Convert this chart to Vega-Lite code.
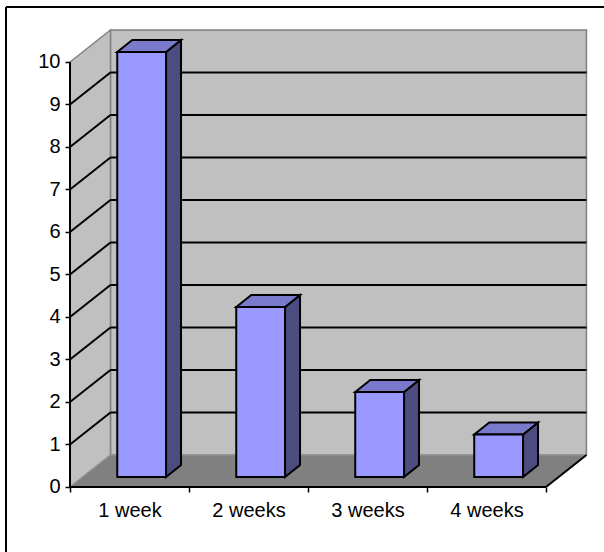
{
  "$schema": "https://vega.github.io/schema/vega-lite/v6.json",
  "width": 598,
  "height": 545,
  "autosize": {"type": "none"},
  "padding": {"left": 6, "top": 7, "right": 0, "bottom": 0},
  "background": "white",
  "config": {"view": {"stroke": null}},
  "datasets": {
    "bars": [
      {"period": "1 week", "count": 10},
      {"period": "2 weeks", "count": 4},
      {"period": "3 weeks", "count": 2},
      {"period": "4 weeks", "count": 1}
    ],
    "grid": [{"v": 1}, {"v": 2}, {"v": 3}, {"v": 4}, {"v": 5}, {"v": 6}, {"v": 7}, {"v": 8}, {"v": 9}],
    "one": [{"n": 0}],
    "two": [{"k": 0}, {"k": 1}]
  },
  "encoding": {
    "x": {
      "field": "px", "type": "quantitative",
      "scale": {"domain": [-0.5378, 4.4874], "nice": false, "zero": false},
      "axis": {
        "values": [0, 1, 2, 3, 4],
        "labelExpr": "['1 week','2 weeks','3 weeks','4 weeks',''][datum.value]",
        "labelOffset": 59.5, "offset": -65, "domain": false, "grid": false,
        "tickSize": 5, "tickColor": "black", "tickWidth": 1.5,
        "labelFontSize": 20, "labelFont": "Liberation Sans", "labelColor": "black",
        "labelPadding": 8, "title": null, "labelAlign": "center",
        "labelFlush": false, "labelOverlap": false, "labelBound": false, "zindex": 1
      }
    },
    "y": {
      "field": "py", "type": "quantitative",
      "scale": {"domain": [-1.5294, 11.294], "nice": false, "zero": false},
      "axis": {
        "values": [0, 1, 2, 3, 4, 5, 6, 7, 8, 9, 10],
        "format": "d", "offset": -64, "domain": false, "grid": false,
        "tickSize": 5, "tickColor": "black", "tickWidth": 1.5,
        "labelFontSize": 20, "labelFont": "Liberation Sans", "labelColor": "black",
        "labelPadding": 5, "title": null, "labelFlush": false, "labelOverlap": false, "zindex": 1
      }
    }
  },
  "layer": [
    {
      "data": {"values": [{"edge": "top"}, {"edge": "left"}]},
      "transform": [
        {"calculate": "-0.5378", "as": "px"},
        {"calculate": "datum.edge == 'top' ? 4.4874 : -0.5378", "as": "px2"},
        {"calculate": "datum.edge == 'top' ? 11.294 : -1.5294", "as": "py"},
        {"calculate": "11.294", "as": "py2"}
      ],
      "mark": {"type": "rule", "color": "black", "strokeWidth": 2},
      "encoding": {
        "x2": {"field": "px2"},
        "y2": {"field": "py2"}
      }
    },
    {
      "data": {"name": "one"},
      "transform": [
        {"calculate": "0.34", "as": "px"},
        {"calculate": "4.34", "as": "px2"},
        {"calculate": "0.753", "as": "py"},
        {"calculate": "10.753", "as": "py2"}
      ],
      "mark": {"type": "rect", "fill": "#C0C0C0", "stroke": "#808080", "strokeWidth": 1.5},
      "encoding": {
        "x2": {"field": "px2"},
        "y2": {"field": "py2"}
      }
    },
    {
      "data": {"name": "two"},
      "transform": [
        {"calculate": "datum.k * 0.34", "as": "px"},
        {"calculate": "datum.k * 0.753", "as": "py"},
        {"calculate": "10 + datum.k * 0.753", "as": "py2"}
      ],
      "mark": {"type": "area", "fill": "#C0C0C0", "stroke": "#808080", "strokeWidth": 1.5},
      "encoding": {
        "y2": {"field": "py2"}
      }
    },
    {
      "data": {"name": "two"},
      "transform": [
        {"calculate": "datum.k * 0.753", "as": "py"},
        {"calculate": "datum.k * 0.34", "as": "px"},
        {"calculate": "4 + datum.k * 0.34", "as": "px2"}
      ],
      "mark": {"type": "area", "orient": "horizontal", "fill": "#808080", "stroke": "#999999", "strokeWidth": 1},
      "encoding": {
        "x2": {"field": "px2"}
      }
    },
    {
      "data": {"name": "grid"},
      "transform": [
        {"calculate": "datum.v + 0.753", "as": "py"},
        {"calculate": "0.34", "as": "px"},
        {"calculate": "4.34", "as": "px2"}
      ],
      "mark": {"type": "rule", "color": "black", "strokeWidth": 2},
      "encoding": {
        "x2": {"field": "px2"}
      }
    },
    {
      "data": {"name": "grid"},
      "transform": [
        {"calculate": "datum.v", "as": "py"},
        {"calculate": "datum.v + 0.753", "as": "py2"},
        {"calculate": "0", "as": "px"},
        {"calculate": "0.34", "as": "px2"}
      ],
      "mark": {"type": "rule", "color": "black", "strokeWidth": 2},
      "encoding": {
        "x2": {"field": "px2"},
        "y2": {"field": "py2"}
      }
    },
    {
      "data": {"values": [
        {"edge": "yaxis"}, {"edge": "xaxis"}, {"edge": "floor"}
      ]},
      "transform": [
        {"calculate": "datum.edge == 'floor' ? 4 : 0", "as": "px"},
        {"calculate": "datum.edge == 'yaxis' ? 0 : datum.edge == 'xaxis' ? 4 : 4.34", "as": "px2"},
        {"calculate": "0", "as": "py"},
        {"calculate": "datum.edge == 'yaxis' ? 10 : datum.edge == 'xaxis' ? 0 : 0.753", "as": "py2"}
      ],
      "mark": {"type": "rule", "color": "black", "strokeWidth": 2},
      "encoding": {
        "x2": {"field": "px2"},
        "y2": {"field": "py2"}
      }
    },
    {
      "data": {"name": "bars"},
      "transform": [
        {"window": [{"op": "row_number", "as": "rn"}]},
        {"calculate": "datum.rn - 1", "as": "i"},
        {"calculate": "[0, 1]", "as": "k"},
        {"flatten": ["k"]},
        {"calculate": "datum.i + 0.807 + datum.k * 0.126", "as": "px"},
        {"calculate": "0.235 + datum.k * 0.282", "as": "py"},
        {"calculate": "datum.count + 0.235 + datum.k * 0.282", "as": "py2"}
      ],
      "mark": {"type": "area", "fill": "#4C4C80", "stroke": "black", "strokeWidth": 2},
      "encoding": {
        "y2": {"field": "py2"},
        "detail": {"field": "period", "type": "nominal"}
      }
    },
    {
      "data": {"name": "bars"},
      "transform": [
        {"window": [{"op": "row_number", "as": "rn"}]},
        {"calculate": "datum.rn - 1", "as": "i"},
        {"calculate": "[0, 1]", "as": "k"},
        {"flatten": ["k"]},
        {"calculate": "datum.count + 0.235 + datum.k * 0.282", "as": "py"},
        {"calculate": "datum.i + 0.397 + datum.k * 0.126", "as": "px"},
        {"calculate": "datum.i + 0.807 + datum.k * 0.126", "as": "px2"}
      ],
      "mark": {"type": "area", "orient": "horizontal", "fill": "#7A7ACC", "stroke": "black", "strokeWidth": 2},
      "encoding": {
        "x2": {"field": "px2"},
        "detail": {"field": "period", "type": "nominal"}
      }
    },
    {
      "data": {"name": "bars"},
      "transform": [
        {"window": [{"op": "row_number", "as": "rn"}]},
        {"calculate": "datum.rn - 1", "as": "i"},
        {"calculate": "datum.i + 0.397", "as": "px"},
        {"calculate": "datum.i + 0.807", "as": "px2"},
        {"calculate": "0.235", "as": "py"},
        {"calculate": "datum.count + 0.235", "as": "py2"}
      ],
      "mark": {"type": "rect", "fill": "#9999FF", "stroke": "black", "strokeWidth": 2},
      "encoding": {
        "x2": {"field": "px2"},
        "y2": {"field": "py2"}
      }
    }
  ]
}
